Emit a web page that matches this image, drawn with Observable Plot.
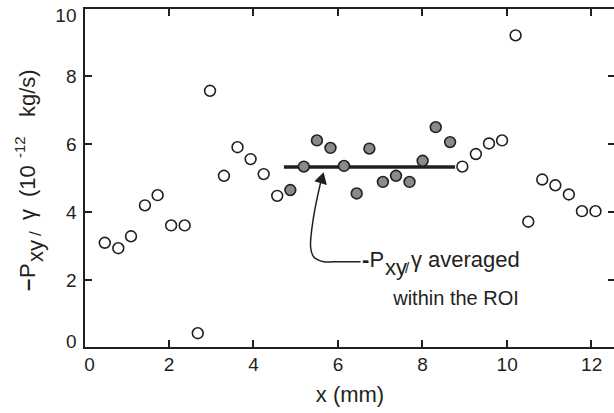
<!DOCTYPE html>
<html><head><meta charset="utf-8">
<script src="https://cdn.jsdelivr.net/npm/d3@7"></script>
<script src="https://cdn.jsdelivr.net/npm/@observablehq/plot@0.6"></script>
<style>
body{margin:0;background:#fff;}
#chart{position:relative;width:614px;height:413px;}
#frame{position:absolute;left:0;top:0;width:614px;height:413px;pointer-events:none;}
#frame div{position:absolute;background:#231f20;}
</style></head><body><div id="chart"><div id="frame"></div></div>
<script>
// open circles: outside the ROI
const xOpen = [0.48,0.80,1.10,1.43,1.73,2.05,2.37,2.68,2.97,3.30,3.62,3.93,4.24,4.56,8.94,9.26,9.57,9.88,10.20,10.50,10.83,11.14,11.46,11.77,12.09];
const yOpen = [3.11,2.95,3.30,4.21,4.51,3.62,3.62,0.45,7.58,5.08,5.92,5.57,5.13,4.49,5.35,5.72,6.03,6.12,9.21,3.73,4.97,4.80,4.53,4.04,4.04];
// gray circles: within the ROI
const xRoi = [4.87,5.19,5.50,5.82,6.14,6.44,6.74,7.06,7.37,7.69,8.00,8.31,8.65];
const yRoi = [4.66,5.35,6.12,5.90,5.37,4.56,5.88,4.90,5.08,4.90,5.52,6.51,6.07];
// ROI average
const roiMean = [5.34];
const roiRange = [4.73, 8.78];
// ticks
const xTicks = [0,2,4,6,8,10,12];
const yTicks = [0,2,4,6,8,10];
// annotation arrow path (data units)
const arrowX = [6.52, 5.90, 5.66, 5.42, 5.35, 5.42, 5.58];
const arrowY = [2.55, 2.55, 2.55, 2.70, 2.99, 3.87, 4.85];
const arrowHead = [{x: 5.61, y: 4.97, angle: 16}];

const openData = xOpen.map((x, i) => ({x, y: yOpen[i]}));
const roiData = xRoi.map((x, i) => ({x, y: yRoi[i]}));
const ink = "#231f20";
const FONT = "Liberation Sans, Arial, sans-serif";
const W = 614, H = 413, mL = 84, mT = 8, mB = 65, mR = 0;
const tickLen = 8;

const plot = Plot.plot({
  width: W, height: H,
  marginLeft: mL, marginTop: mT, marginBottom: mB, marginRight: mR,
  style: {fontFamily: FONT, color: ink, background: "transparent"},
  x: {domain: [0, 12.54], label: null},
  y: {domain: [0, 10], label: null},
  marks: [
    // tick labels
    Plot.axisX(xTicks.slice(1), {tickSize: 0, tickPadding: 9, fontSize: 19, color: ink}),
    Plot.axisX([0], {tickSize: 0, tickPadding: 9, fontSize: 19, dx: 5, color: ink}),
    Plot.axisY(yTicks.slice(1, -1), {tickSize: 0, tickPadding: 8, fontSize: 19, color: ink}),
    Plot.axisY([0], {tickSize: 0, tickPadding: 8, fontSize: 19, dy: -7, color: ink}),
    Plot.axisY([10], {tickSize: 0, tickPadding: 8, fontSize: 19, dy: 7, color: ink}),
    // ROI average line
    Plot.ruleY(roiMean, {x1: roiRange[0], x2: roiRange[1], stroke: ink, strokeWidth: 3.5}),
    // data
    Plot.dot(openData, {x: "x", y: "y", r: 5.4, fill: "#fff", stroke: ink, strokeWidth: 1.6}),
    Plot.dot(roiData, {x: "x", y: "y", r: 5.4, fill: "#8a8a8a", stroke: ink, strokeWidth: 1.6}),
    // annotation arrow
    Plot.line(arrowX.map((x, i) => ({x, y: arrowY[i]})), {x: "x", y: "y", curve: "catmull-rom", stroke: ink, strokeWidth: 1.5}),
    Plot.dot(arrowHead, {x: "x", y: "y", symbol: "triangle", r: 4.8, rotate: "angle", fill: ink, stroke: "none"})
  ]
});
document.getElementById("chart").insertBefore(plot, document.getElementById("frame"));

const sx = plot.scale("x"), sy = plot.scale("y");
const svg = d3.select(plot);

// frame (left, bottom, top) and inward ticks, positioned with the plot's scales
const X0 = sx.apply(0), Y0 = sy.apply(0), Y1 = sy.apply(10);
const frame = d3.select("#frame");
const bar = (x, y, w, h) => frame.append("div")
  .style("left", x + "px").style("top", y + "px").style("width", w + "px").style("height", h + "px");
bar(X0 - 1, Y1 - 1, 2, Y0 - Y1 + 2);          // left
bar(X0 - 1, Y0 - 1, W - X0 + 1, 2);           // bottom
bar(X0 - 1, Y1 - 1, W - X0 + 1, 2);           // top
xTicks.slice(1).forEach(t => {
  const x = sx.apply(t);
  bar(x - 1, Y0 - tickLen, 2, tickLen);
  bar(x - 1, Y1, 2, tickLen);
});
yTicks.slice(1, -1).forEach(t => {
  const y = sy.apply(t);
  bar(X0, y - 1, tickLen, 2);
  bar(W - 6, y - 1, 6, 2);
});

// y-axis label (rotated, pieces placed along the axis)
const yl = svg.append("text")
  .attr("transform", "translate(35,0) rotate(-90)")
  .attr("text-anchor", "start").attr("font-family", FONT).attr("font-size", 22).attr("fill", ink);
yl.append("tspan").attr("x", -291).attr("y", 0).attr("font-weight", "bold").text("–");
yl.append("tspan").attr("x", -278).attr("y", 0).text("P");
yl.append("tspan").attr("x", -262).attr("y", 8).text("xy");
yl.append("tspan").attr("x", -236).attr("y", 6).attr("font-size", 17).text("/");
yl.append("tspan").attr("x", -220).attr("y", 0).text("γ");
yl.append("tspan").attr("x", -197).attr("y", 0).text("(10");
yl.append("tspan").attr("x", -158).attr("y", -10).attr("font-size", 15).text("-12");
yl.append("tspan").attr("x", -117).attr("y", 0).text("kg/s)");

// x-axis label
svg.append("text")
  .attr("x", 350).attr("y", 402)
  .attr("text-anchor", "middle").attr("font-family", FONT).attr("font-size", 22).attr("fill", ink)
  .text("x (mm)");

// annotation text
const a1 = svg.append("text").attr("text-anchor", "start").attr("font-family", FONT)
  .attr("font-size", 22).attr("fill", ink);
a1.append("tspan").attr("x", 362).attr("y", 267).attr("font-weight", "bold").text("-");
a1.append("tspan").attr("x", 369.5).attr("y", 267).text("P");
a1.append("tspan").attr("x", 385).attr("y", 275).text("xy");
a1.append("tspan").attr("x", 405).attr("y", 273).attr("font-size", 15).text("/");
a1.append("tspan").attr("x", 411).attr("y", 267).text("γ");
a1.append("tspan").attr("x", 428).attr("y", 267).text("averaged");
svg.append("text").attr("x", 456).attr("y", 305)
  .attr("text-anchor", "middle").attr("font-family", FONT).attr("font-size", 20).attr("fill", ink)
  .text("within the ROI");
</script></body></html>
